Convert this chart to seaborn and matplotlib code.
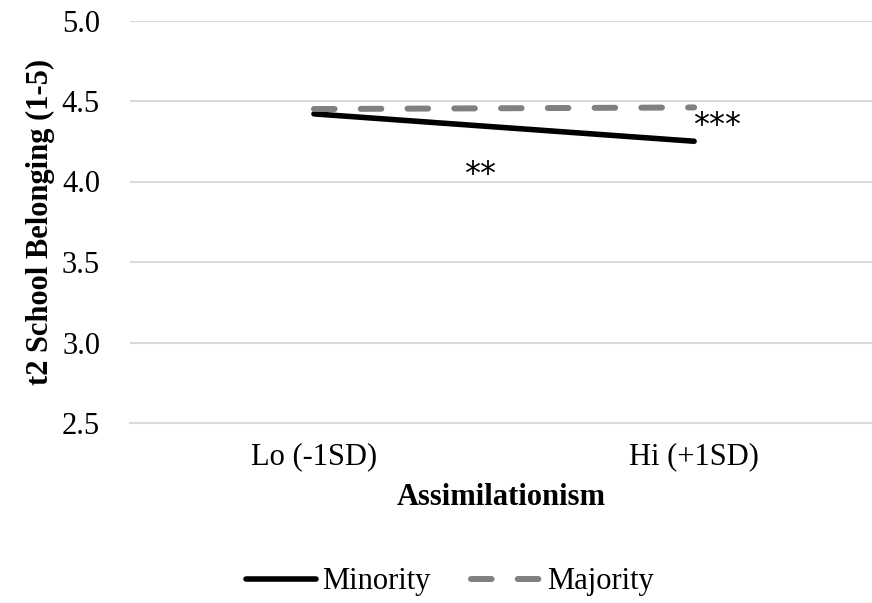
import matplotlib
matplotlib.use("Agg")
import matplotlib.pyplot as plt
import seaborn as sns
import pandas as pd
from matplotlib.lines import Line2D

# Simple-slope estimates of school belonging at low / high assimilationism
levels = ["Lo (-1SD)", "Hi (+1SD)"]
minority = [4.42, 4.25]
majority = [4.45, 4.46]
groups = ["Minority", "Majority"]
y_ticks = [2.5, 3.0, 3.5, 4.0, 4.5, 5.0]
sig_minority = "**"
sig_majority = "***"

df = pd.DataFrame({
    "level": levels * 2,
    "belonging": minority + majority,
    "group": [groups[0]] * 2 + [groups[1]] * 2,
})

sns.set_theme(style="white")
plt.rcParams["font.family"] = ["Liberation Serif", "DejaVu Serif"]
for key in ["text.color", "axes.labelcolor", "xtick.color", "ytick.color"]:
    plt.rcParams[key] = "black"

MIN_LW = 4.0
MAJ_LW = 4.3
MAJ_DASH = [3.45, 4.38]

fig = plt.figure(figsize=(8.72, 6.03), dpi=100)
ax = fig.add_axes([130 / 872, 1 - 423 / 603, 742 / 872, (423 - 20.5) / 603])

sns.lineplot(data=df[df.group == "Minority"], x="level", y="belonging",
             color="black", linewidth=MIN_LW, ax=ax, sort=False,
             solid_capstyle="round")
sns.lineplot(data=df[df.group == "Majority"], x="level", y="belonging",
             color="#808080", linewidth=MAJ_LW, ax=ax, sort=False)
maj_line = ax.get_lines()[-1]
maj_line.set_dashes(MAJ_DASH)
maj_line.set_dash_capstyle("round")

ax.set_xlim(-0.484, 1.468)
ax.set_ylim(2.5, 5.0)
ax.set_yticks(y_ticks)
ax.set_yticklabels([f"{v:.1f}" for v in y_ticks])
ax.yaxis.grid(True, color="#d9d9d9", linewidth=1.5)
ax.xaxis.grid(False)
for side in ["left", "right", "top"]:
    ax.spines[side].set_visible(False)
ax.spines["bottom"].set_color("#d9d9d9")
ax.spines["bottom"].set_linewidth(1.5)
ax.tick_params(axis="both", length=0, labelsize=22, colors="black")
ax.tick_params(axis="y", pad=21.6)
ax.tick_params(axis="x", pad=14)

ax.set_xlabel("Assimilationism", fontsize=22, fontweight="bold", labelpad=8)
ax.set_ylabel("t2 School Belonging (1-5)", fontsize=22, fontweight="bold",
              labelpad=5)

# significance markers next to the slopes
ax.text(0.437, 4.045, sig_minority, fontsize=23, ha="center", va="center",
        family="DejaVu Sans")
ax.text(1.06, 4.345, sig_majority, fontsize=23, ha="center", va="center",
        family="DejaVu Sans")

handles = [
    Line2D([], [], color="black", linewidth=MIN_LW, solid_capstyle="round"),
    Line2D([], [], color="#808080", linewidth=MAJ_LW, dashes=MAJ_DASH,
           dash_capstyle="round"),
]
fig.legend(handles, groups, loc="center", bbox_to_anchor=(450 / 872, 1 - 582 / 603),
           ncol=2, frameon=False, fontsize=22, handlelength=2.3,
           handletextpad=0.2, columnspacing=1.3)

fig.savefig("out.png", dpi=100)
